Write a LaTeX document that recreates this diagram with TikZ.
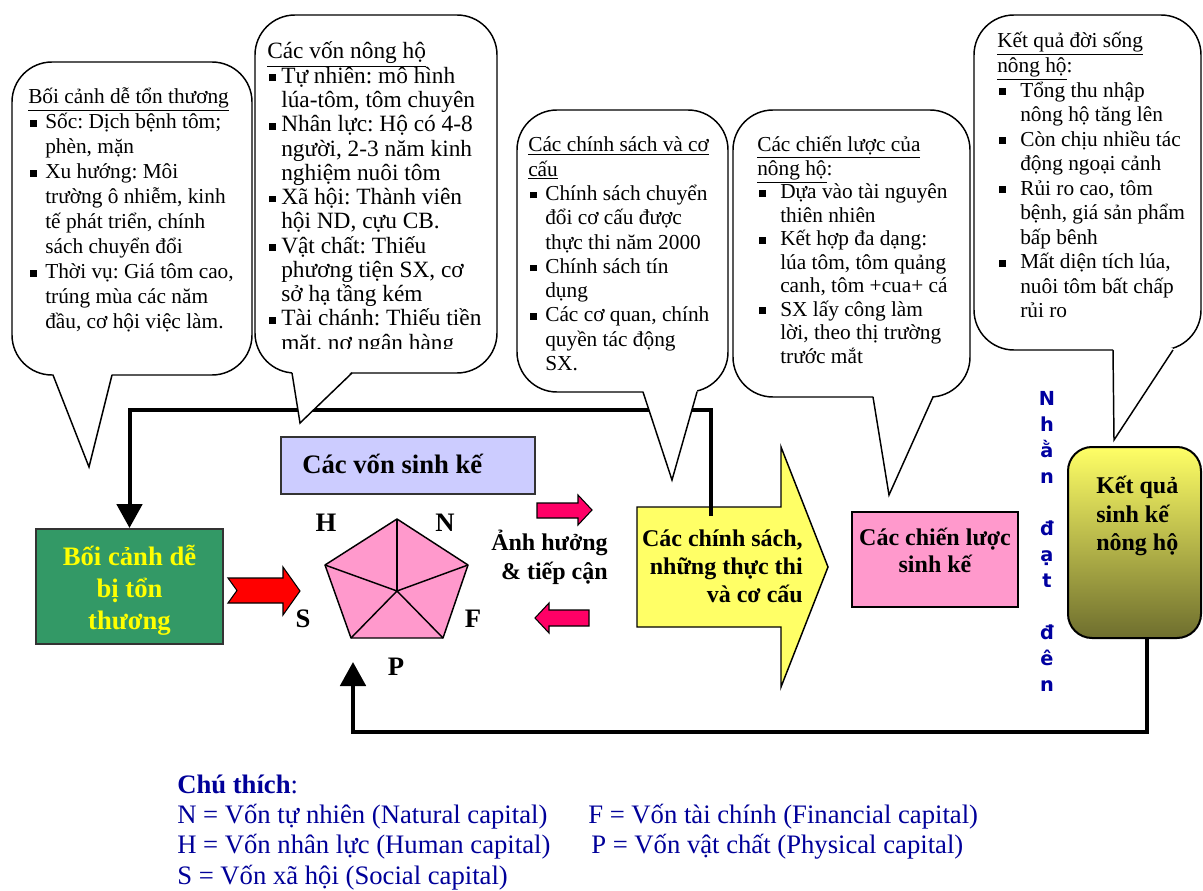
\documentclass[tikz,border=0pt]{standalone}
\usepackage{fontspec}
\setmainfont{Liberation Serif}
\newfontfamily\vnsans{DejaVu Sans}
\usetikzlibrary{arrows.meta}
\frenchspacing

\definecolor{ctxgreen}{HTML}{339966}
\definecolor{ctxyellow}{HTML}{FFFF00}
\definecolor{capslav}{HTML}{CCCCFF}
\definecolor{pentpink}{HTML}{FF99CC}
\definecolor{arrred}{HTML}{FF0000}
\definecolor{arrpink}{HTML}{FF0066}
\definecolor{polyellow}{HTML}{FFFF66}
\definecolor{outolive}{HTML}{6E6E2E}
\definecolor{outmid}{HTML}{D2D256}
\definecolor{vblue}{HTML}{0000A0}
\definecolor{legnavy}{HTML}{000099}

% bullet items inside the speech bubbles
\newlength\bind
\newcommand{\bitem}{\par\hangindent=\bind\hangafter=1\noindent\makebox[\bind][l]{\hspace{1.5pt}\rule[1.6pt]{5pt}{5pt}}}
% speech bubble: x1 y1 x2 y2, tail base t1 t2, tail tip
\newcommand{\bubble}[8]{%
  \draw[bubline,fill=white,rounded corners=30pt] (#1,#2) rectangle (#3,#4);
  \fill[white] (#5,#4-2) -- (#7,#8) -- (#6,#4-2) -- cycle;
  \draw[bubline] (#5,#4) -- (#7,#8) -- (#6,#4);}

\tikzset{
  bubline/.style={draw=black,line width=1.1pt},
  bubtext/.style={anchor=base west,inner sep=0pt},
  loopline/.style={line width=3pt,-{Triangle[length=18pt,width=19pt]}},
  boldbig/.style={inner sep=0pt,font=\fontsize{20}{24}\selectfont\bfseries},
  boldmid/.style={inner sep=0pt,font=\fontsize{18}{21.4}\selectfont\bfseries},
  legtext/.style={anchor=base west,inner sep=0pt,text=legnavy,font=\fontsize{20}{23}\selectfont},
  blockarrow/.style={draw=black,line width=1.1pt},
}

\begin{document}
\begin{tikzpicture}[x=0.75pt,y=-0.75pt]
\useasboundingbox (0,0) rectangle (1203,891);
\clip (0,0) rectangle (1203,891);

% policies arrow
\draw[blockarrow,fill=polyellow] (637,507) -- (781,507) -- (781,447) -- (828,567) -- (781,687) -- (781,627) -- (637,627) -- cycle;
\node[boldmid,anchor=east,align=right,font=\fontsize{18}{21}\selectfont\bfseries] (poltxt) at (803,566) {Các chính sách,\\những thực thi\\và cơ cấu};

% context box
\node[draw=black!80,line width=1.5pt,fill=ctxgreen,minimum width=140.25pt,minimum height=86.25pt] (ctx) at (129.5,586.5) {};
\node[boldbig,text=ctxyellow,align=center] (ctxtxt) at (129.5,590) {Bối cảnh dễ\\bị tổn\\thương};

% outcome box
\node[draw=black,line width=1.5pt,rounded corners=18pt,top color=polyellow,middle color=outmid,bottom color=outolive,minimum width=99.75pt,minimum height=143.25pt] (outc) at (1134.5,542.5) {};
\node[boldmid,anchor=west,align=left] (outtxt) at (1096,516) {Kết quả\\sinh kế\\nông hộ};

% feedback lines
\coordinate (polin) at (711,516);
\coordinate (toprt) at (711,410);
\coordinate (outbot) at (1147,638);
\coordinate (botrt) at (1147,732);
\coordinate (pentin) at (353,662);
\draw[loopline] (polin) -- (toprt) -| (ctx.north);
\draw[loopline] (outbot) -- (botrt) -| (pentin);

% speech bubbles
\bubble{12}{62}{252}{375}{53}{112}{89}{467}
\node[bubtext] (b1) at (28,104) {\begin{minipage}[t]{250pt}\setlength\bind{12.75pt}\fontsize{16}{18.75}\selectfont
\underline{Bối cảnh dễ tổn thương}
\bitem Sốc: Dịch bệnh tôm;\newline phèn, mặn
\bitem Xu hướng: Môi\newline trường ô nhiễm, kinh\newline tế phát triển, chính\newline sách chuyển đổi
\bitem Thời vụ: Giá tôm cao,\newline trúng mùa các năm\newline đầu, cơ hội việc làm.
\end{minipage}};

\bubble{255}{15}{497}{373}{292}{352}{300}{423}
\begin{scope}
\clip (255,15) rectangle (497,348);
\node[bubtext] (b2) at (267,59) {\begin{minipage}[t]{250pt}\setlength\bind{10.5pt}\fontsize{17.5}{18.2}\selectfont
\underline{Các vốn nông hộ}
\bitem Tự nhiên: mô hình\newline lúa-tôm, tôm chuyên
\bitem Nhân lực: Hộ có 4-8\newline người, 2-3 năm kinh\newline nghiệm nuôi tôm
\bitem Xã hội: Thành viên\newline hội ND, cựu CB.
\bitem Vật chất: Thiếu\newline phương tiện SX, cơ\newline sở hạ tầng kém
\bitem Tài chánh: Thiếu tiền\newline mặt, nợ ngân hàng
\end{minipage}};
\end{scope}

\bubble{517}{110}{728}{392}{643}{697}{672}{480}
\node[bubtext] (b3) at (528,152) {\begin{minipage}[t]{250pt}\setlength\bind{12.75pt}\fontsize{16}{18.2}\selectfont
\underline{Các chính sách và cơ}\newline\underline{cấu}
\bitem Chính sách chuyển\newline đổi cơ cấu được\newline thực thi năm 2000
\bitem Chính sách tín\newline dụng
\bitem Các cơ quan, chính\newline quyền tác động\newline SX.
\end{minipage}};

\bubble{733}{110}{970}{397}{873}{933}{889}{495}
\node[bubtext] (b4) at (757,152) {\begin{minipage}[t]{250pt}\setlength\bind{17.25pt}\fontsize{16}{17.6}\selectfont
\underline{Các chiến lược của}\newline\underline{nông hộ}:
\bitem Dựa vào tài nguyên\newline thiên nhiên
\bitem Kết hợp đa dạng:\newline lúa tôm, tôm quảng\newline canh, tôm +cua+ cá
\bitem SX lấy công làm\newline lời, theo thị trường\newline trước mắt
\end{minipage}};

\bubble{974}{15}{1201}{350}{1113}{1173}{1114}{440}
\node[bubtext] (b5) at (997,48) {\begin{minipage}[t]{250pt}\setlength\bind{17.25pt}\fontsize{16}{18.4}\selectfont
\underline{Kết quả đời sống}\newline\underline{nông hộ}:
\bitem Tổng thu nhập\newline nông hộ tăng lên
\bitem Còn chịu nhiều tác\newline động ngoại cảnh
\bitem Rủi ro cao, tôm\newline bệnh, giá sản phẩm\newline bấp bênh
\bitem Mất diện tích lúa,\newline nuôi tôm bất chấp\newline rủi ro
\end{minipage}};

% livelihood assets
\node[draw=black!80,line width=1.5pt,fill=capslav,minimum width=190.5pt,minimum height=42.75pt] (caps) at (408,465.5) {};
\node[boldbig,anchor=west] (capstxt) at (302,464) {Các vốn sinh kế};

\draw[blockarrow,fill=arrred,line width=0.8pt] (228,578) -- (283,578) -- (283,567) -- (300,591) -- (283,615) -- (283,603) -- (228,603) -- (237,590.5) -- cycle;

\coordinate (pT) at (397,519);
\coordinate (pR) at (468,565);
\coordinate (pBR) at (443,638);
\coordinate (pBL) at (351,638);
\coordinate (pL) at (325,565);
\coordinate (pC) at (397,591);
\draw[line width=1.1pt,fill=pentpink,line join=round] (pT) -- (pR) -- (pBR) -- (pBL) -- (pL) -- cycle;
\foreach \v in {pT,pR,pBR,pBL,pL}
  \draw[line width=1.1pt] (pC) -- (\v);
\node[boldbig] (lblH) at (326,523) {H};
\node[boldbig] (lblN) at (445,523) {N};
\node[boldbig] (lblS) at (303,619) {S};
\node[boldbig] (lblF) at (473,619) {F};
\node[boldbig] (lblP) at (396,667) {P};

% influence and access
\draw[blockarrow,fill=arrpink,line width=0.8pt] (537,503) -- (578,503) -- (578,495) -- (592,510) -- (578,525) -- (578,518) -- (537,518) -- cycle;
\draw[blockarrow,fill=arrpink,line width=0.8pt] (589,610) -- (549,610) -- (549,603) -- (535,618) -- (549,633) -- (549,626) -- (589,626) -- cycle;
\node[boldmid,anchor=east,align=right,font=\fontsize{18}{21.75}\selectfont\bfseries] (inftxt) at (608,557) {Ảnh hưởng\\\& tiếp cận};

% strategies
\node[draw=black,line width=1.5pt,fill=pentpink,minimum width=124.5pt,minimum height=71.25pt] (strat) at (935,559.5) {};
\node[boldmid,align=center,font=\fontsize{18}{20.25}\selectfont\bfseries] (strattxt) at (935,550) {Các chiến lược\\sinh kế};

% vertical label
\node[inner sep=0pt,align=center,text=vblue,font=\vnsans\bfseries\fontsize{14.5}{19.5}\selectfont] (achv) at (1047,541) {N\\h\\ằ\\n\\\mbox{}\\đ\\ạ\\t\\\mbox{}\\đ\\ê\\n};

% legend
\node[legtext] (leg0) at (177,793) {\textbf{Chú thích}:};
\node[legtext] (leg1) at (177,823.7) {N = Vốn tự nhiên (Natural capital)};
\node[legtext] (leg2) at (177,853.4) {H = Vốn nhân lực (Human capital)};
\node[legtext] (leg3) at (177,884) {S = Vốn xã hội (Social capital)};
\node[legtext] (leg4) at (588,823.7) {F = Vốn tài chính (Financial capital)};
\node[legtext] (leg5) at (591,853.4) {P = Vốn vật chất (Physical capital)};

\end{tikzpicture}
\end{document}
